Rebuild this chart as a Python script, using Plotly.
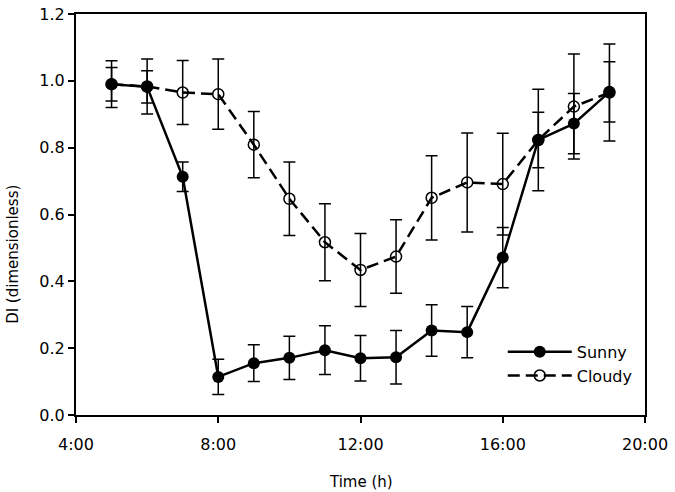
import plotly.graph_objects as go

hours = [5, 6, 7, 8, 9, 10, 11, 12, 13, 14, 15, 16, 17, 18, 19]
sunny = [0.99, 0.982, 0.713, 0.114, 0.155, 0.171, 0.194, 0.170, 0.173, 0.253, 0.248, 0.471, 0.823, 0.872, 0.967]
sunny_err = [0.05, 0.048, 0.044, 0.053, 0.055, 0.065, 0.073, 0.068, 0.08, 0.077, 0.077, 0.09, 0.083, 0.09, 0.09]
cloudy = [0.99, 0.983, 0.965, 0.960, 0.809, 0.647, 0.517, 0.434, 0.474, 0.650, 0.696, 0.691, 0.823, 0.923, 0.965]
cloudy_err = [0.07, 0.082, 0.096, 0.105, 0.099, 0.11, 0.115, 0.109, 0.11, 0.126, 0.148, 0.152, 0.152, 0.157, 0.145]

x_ticks = [4, 8, 12, 16, 20]
x_ticklabels = ["4:00", "8:00", "12:00", "16:00", "20:00"]
y_ticks = [0.0, 0.2, 0.4, 0.6, 0.8, 1.0, 1.2]

FONT = "DejaVu Sans"

fig = go.Figure()
fig.add_trace(go.Scatter(
    x=hours, y=sunny, name="Sunny", mode="lines+markers", legendgroup="s",
    line=dict(color="black", width=2.5),
    marker=dict(symbol="circle", size=12, color="black"),
    error_y=dict(type="data", array=sunny_err, visible=True, color="black", thickness=1.5, width=6),
))
fig.add_trace(go.Scatter(
    x=hours, y=cloudy, name="Cloudy", mode="lines+markers", legendgroup="c",
    line=dict(color="black", width=2.5, dash="12px,6px"),
    marker=dict(symbol="circle-open", size=11, color="black", line=dict(width=1.5)),
    error_y=dict(type="data", array=cloudy_err, visible=True, color="black", thickness=1.5, width=6),
))

fig.update_layout(
    width=675, height=492,
    margin=dict(l=76, r=30, t=5, b=77),
    paper_bgcolor="white", plot_bgcolor="white",
    font=dict(family=FONT, size=16, color="black"),
    showlegend=True,
    legend=dict(x=0.75, y=0.2, xanchor="left", yanchor="top",
                bgcolor="rgba(0,0,0,0)", font=dict(size=16, family=FONT),
                itemwidth=64, tracegroupgap=0),
    xaxis=dict(range=[4, 20], tickvals=x_ticks, ticktext=x_ticklabels,
               showline=True, linecolor="black", linewidth=2, mirror=True,
               ticks="outside", ticklen=6, tickwidth=1.5, tickcolor="black",
               showgrid=False, zeroline=False, ticklabeloverflow="allow",
               ticklabelstandoff=8,
               tickfont=dict(size=16, family=FONT)),
    yaxis=dict(range=[0, 1.2], tickvals=y_ticks, tickformat=".1f",
               showline=True, linecolor="black", linewidth=2, mirror=True,
               ticks="outside", ticklen=6, tickwidth=1.5, tickcolor="black",
               showgrid=False, zeroline=False, ticklabeloverflow="allow",
               tickfont=dict(size=16, family=FONT)),
    annotations=[
        dict(text="Time (h)", xref="paper", yref="paper", x=0.5, y=-0.168,
             xanchor="center", yanchor="middle", showarrow=False,
             font=dict(size=15, family=FONT)),
        dict(text="DI (dimensionless)", xref="paper", yref="paper",
             x=-0.112, y=0.40, xanchor="center", yanchor="middle",
             textangle=-90, showarrow=False, font=dict(size=15, family=FONT)),
    ],
)

fig.write_html("out.html", config={"displayModeBar": False},
               post_script="document.body.style.margin='0px';")
